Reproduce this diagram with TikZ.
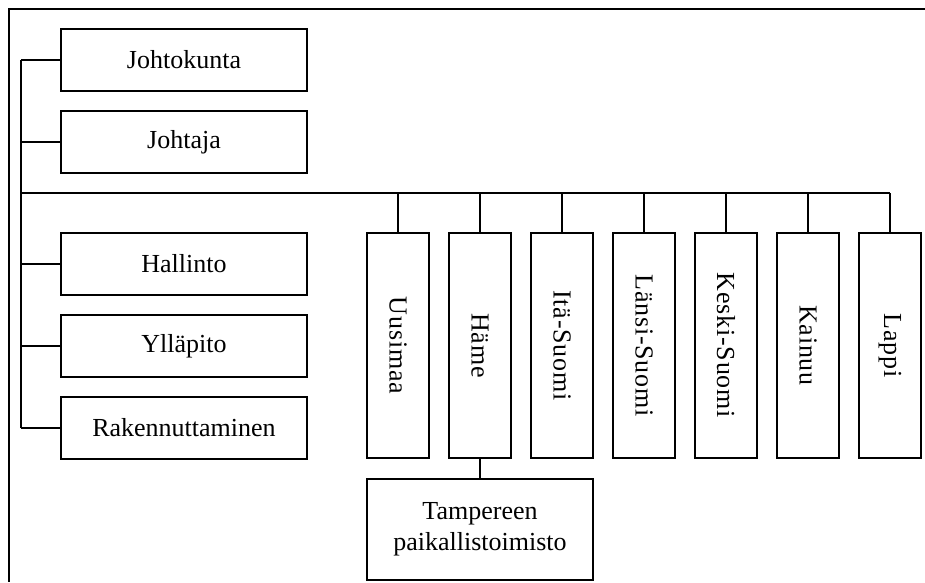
\documentclass[tikz,border=0pt]{standalone}
\usepackage{fontspec}
\setmainfont{Liberation Serif}
\begin{document}
\begin{tikzpicture}[x=1pt,y=-1pt,
  line width=1.2pt,
  hbox/.style={draw, minimum width=246pt, minimum height=62pt, inner sep=0pt, font=\fontsize{26}{31}\selectfont},
  vbox/.style={draw, minimum width=62pt, minimum height=225pt, inner sep=0pt},
  vtext/.style={rotate=-90, inner sep=0pt, font=\fontsize{26}{31}\selectfont\addfontfeatures{LetterSpace=3}},
  tbox/.style={draw, minimum width=226pt, minimum height=101pt, inner sep=0pt, align=center, font=\fontsize{26}{31}\selectfont}]
\useasboundingbox (0,0) rectangle (925,582);
\fill[white] (0,0) rectangle (925,582);
% frame
\draw (925,9) -- (9,9) -- (9,582);
% left boxes
\node[hbox] (jk) at (184,60) {Johtokunta};
\node[hbox] (jt) at (184,142) {Johtaja};
\node[hbox] (ha) at (184,264) {Hallinto};
\node[hbox] (yl) at (184,346) {Ylläpito};
\node[hbox] (rk) at (184,428) {Rakennuttaminen};
\coordinate (tk) at (21,60);
\coordinate (bus) at (21,193);
% vertical boxes
\node[vbox] (uus) at (398,345.5) {};
\node[vbox] (ham) at (480,345.5) {};
\node[vbox] (ita) at (562,345.5) {};
\node[vbox] (lan) at (644,345.5) {};
\node[vbox] (kes) at (726,345.5) {};
\node[vbox] (kai) at (808,345.5) {};
\node[vbox] (lap) at (890,345.5) {};
\node[vtext] (uust) at (uus) {Uusimaa};
\node[vtext] (hamt) at (ham) {Häme};
\node[vtext] (itat) at (ita) {Itä-Suomi};
\node[vtext] (lant) at (lan) {Länsi-Suomi};
\node[vtext] (kest) at (kes) {Keski-Suomi};
\node[vtext] (kait) at (kai) {Kainuu};
\node[vtext] (lapt) at (lap) {Lappi};
\node[tbox] (tpo) at (480,529.5) {Tampereen\\paikallistoimisto};
% connectors
\draw (tk) -- (rk.west -| tk);
\draw (jk.west) -- (jk.west -| tk);
\draw (jt.west) -- (jt.west -| tk);
\draw (ha.west) -- (ha.west -| tk);
\draw (yl.west) -- (yl.west -| tk);
\draw (rk.west) -- (rk.west -| tk);
\draw (bus) -- (lap.north |- bus);
\foreach \n in {uus,ham,ita,lan,kes,kai,lap}
  \draw (\n.north) -- (\n.north |- bus);
\draw (ham.south) -- (tpo.north);
\end{tikzpicture}
\end{document}
